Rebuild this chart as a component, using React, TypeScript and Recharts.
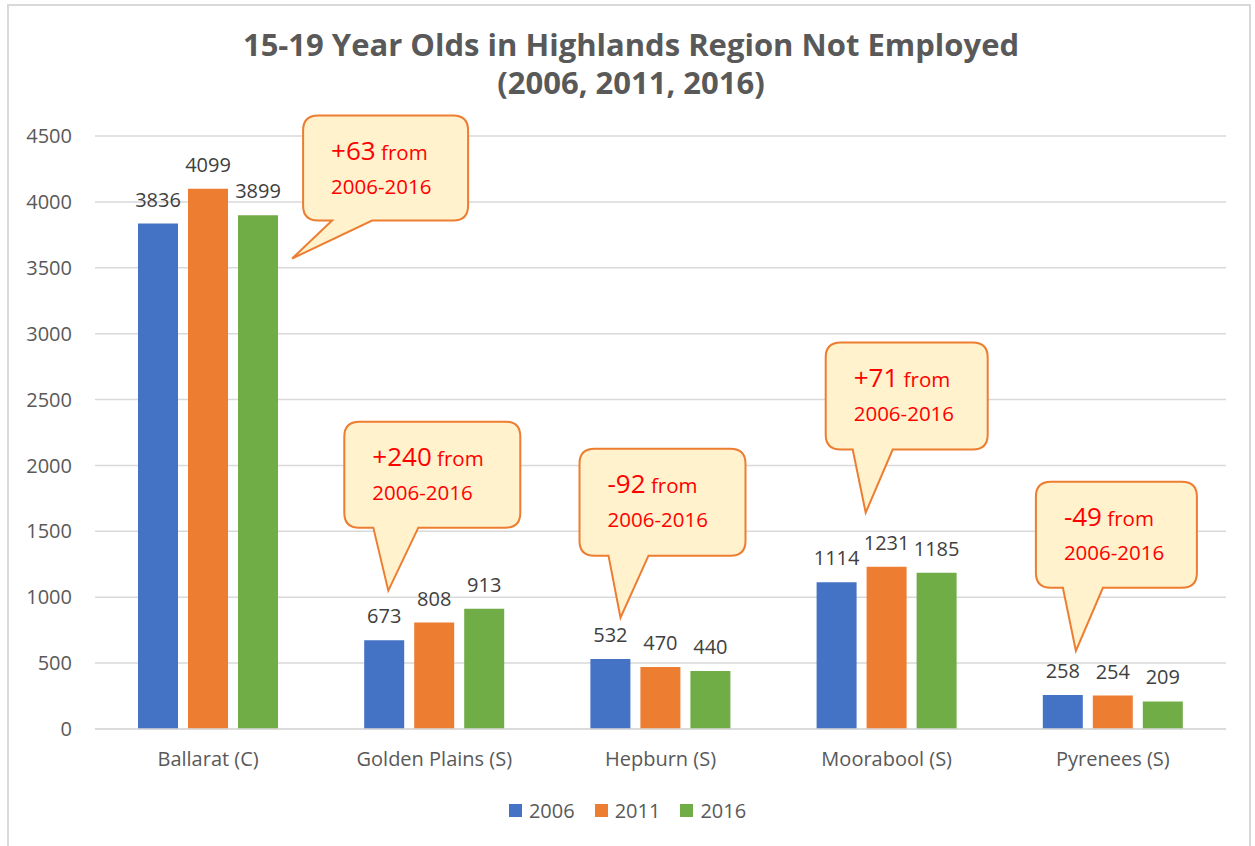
import React from "react";
import {
  BarChart,
  Bar,
  XAxis,
  YAxis,
  CartesianGrid,
  Legend,
  LabelList,
  ReferenceDot,
} from "recharts";

// categories + series values
const regions = [
  "Ballarat (C)",
  "Golden Plains (S)",
  "Hepburn (S)",
  "Moorabool (S)",
  "Pyrenees (S)",
];
const y2006 = [3836, 673, 532, 1114, 258];
const y2011 = [4099, 808, 470, 1231, 254];
const y2016 = [3899, 913, 440, 1185, 209];
const yTicks = [0, 500, 1000, 1500, 2000, 2500, 3000, 3500, 4000, 4500];

// callout texts + the value the pointer reaches
const noteRegions = ["Ballarat (C)", "Golden Plains (S)", "Hepburn (S)", "Moorabool (S)", "Pyrenees (S)"];
const noteChange = ["+63", "+240", "-92", "+71", "-49"];
const noteTipValue = [3570, 1050, 845, 1642, 593];

// callout layout (pixels, relative to the tip)
const noteLayout = [
  { dx: 84, boxX: 11, boxY: -143, w: 165, h: 105, baseA: 40, baseB: 80 },
  { dx: -46, boxX: -44, boxY: -169, w: 176, h: 106, baseA: -15, baseB: 30 },
  { dx: -40, boxX: -41, boxY: -169, w: 166, h: 107, baseA: -12, baseB: 28 },
  { dx: -21, boxX: -40, boxY: -170, w: 162, h: 107, baseA: -13, baseB: 27 },
  { dx: -37, boxX: -40, boxY: -169, w: 161, h: 106, baseA: -13, baseB: 27 },
];

const data = regions.map((r, i) => ({
  region: r,
  y2006: y2006[i],
  y2011: y2011[i],
  y2016: y2016[i],
}));

const FONT = "'Open Sans', sans-serif";
const COLORS = { y2006: "#4472C4", y2011: "#ED7D31", y2016: "#70AD47" };

function calloutPath(tx: number, ty: number, l: (typeof noteLayout)[number]) {
  const x0 = tx + l.boxX;
  const y0 = ty + l.boxY;
  const x1 = x0 + l.w;
  const y1 = y0 + l.h;
  const r = 15;
  return [
    `M${x0 + r},${y0}`,
    `L${x1 - r},${y0}`,
    `Q${x1},${y0} ${x1},${y0 + r}`,
    `L${x1},${y1 - r}`,
    `Q${x1},${y1} ${x1 - r},${y1}`,
    `L${tx + l.baseB},${y1}`,
    `L${tx},${ty}`,
    `L${tx + l.baseA},${y1}`,
    `L${x0 + r},${y1}`,
    `Q${x0},${y1} ${x0},${y1 - r}`,
    `L${x0},${y0 + r}`,
    `Q${x0},${y0} ${x0 + r},${y0}`,
    "Z",
  ].join(" ");
}

function makeCallout(i: number) {
  return (props: any) => {
    const l = noteLayout[i];
    const tx = props.cx + l.dx;
    const ty = props.cy;
    const textX = tx + l.boxX + 28;
    const top = ty + l.boxY;
    return (
      <g>
        <path d={calloutPath(tx, ty, l)} fill="#FFF2CC" stroke="#ED7D31" strokeWidth={2} />
        <text x={textX} y={top + 44} fill="#FF0000" fontFamily={FONT}>
          <tspan fontSize={26}>{noteChange[i]}</tspan>
          <tspan fontSize={20.5}> from</tspan>
        </text>
        <text x={textX} y={top + 78} fill="#FF0000" fontFamily={FONT} fontSize={20.5}>
          2006-2016
        </text>
      </g>
    );
  };
}

function LegendBox(props: any) {
  const items = props.payload || [];
  return (
    <div
      style={{
        display: "flex",
        justifyContent: "center",
        gap: 20,
        fontFamily: FONT,
        fontSize: 20,
        color: "#595959",
      }}
    >
      {items.map((it: any) => (
        <div key={it.value} style={{ display: "flex", alignItems: "center" }}>
          <span
            style={{ width: 13, height: 13, background: it.color, marginRight: 7, display: "inline-block" }}
          />
          <span>{it.value}</span>
        </div>
      ))}
    </div>
  );
}

export default function App() {
  return (
    <div style={{ position: "absolute", left: 0, top: 0, width: 1255, height: 846, background: "#fff", overflow: "hidden" }}>
      <div
        style={{
          position: "absolute",
          left: 7,
          top: 4,
          width: 1244,
          height: 900,
          border: "2px solid #D9D9D9",
          boxSizing: "border-box",
        }}
      />
      <div
        style={{
          position: "absolute",
          left: 0,
          top: 25,
          width: 1262,
          textAlign: "center",
          fontFamily: FONT,
          fontWeight: 700,
          fontSize: 31,
          lineHeight: "38px",
          color: "#595959",
        }}
      >
        15-19 Year Olds in Highlands Region Not Employed
        <br />
        (2006, 2011, 2016)
      </div>
      <div style={{ position: "absolute", left: 0, top: 0 }}>
        <BarChart
          width={1255}
          height={846}
          data={data}
          margin={{ top: 136, right: 29, left: 0, bottom: 50 }}
          barSize={40}
          barGap={10}
        >
          <CartesianGrid vertical={false} stroke="#D9D9D9" strokeWidth={1.5} />
          <XAxis
            dataKey="region"
            height={40}
            tickLine={false}
            axisLine={{ stroke: "#D9D9D9", strokeWidth: 1.5 }}
            tickMargin={17}
            tick={{ fill: "#595959", fontSize: 20, fontFamily: FONT }}
          />
          <YAxis
            width={95}
            domain={[0, 4500]}
            ticks={yTicks}
            tickLine={false}
            axisLine={false}
            tickMargin={17}
            tick={{ fill: "#595959", fontSize: 20, fontFamily: FONT }}
          />
          <Legend
            verticalAlign="bottom"
            content={<LegendBox />}
            wrapperStyle={{ left: 0, width: 1255, top: 797 }}
          />
          <Bar dataKey="y2006" name="2006" fill={COLORS.y2006} isAnimationActive={false}>
            <LabelList dataKey="y2006" position="top" offset={17} fill="#404040" fontSize={20} fontFamily={FONT} />
          </Bar>
          <Bar dataKey="y2011" name="2011" fill={COLORS.y2011} isAnimationActive={false}>
            <LabelList dataKey="y2011" position="top" offset={17} fill="#404040" fontSize={20} fontFamily={FONT} />
          </Bar>
          <Bar dataKey="y2016" name="2016" fill={COLORS.y2016} isAnimationActive={false}>
            <LabelList dataKey="y2016" position="top" offset={17} fill="#404040" fontSize={20} fontFamily={FONT} />
          </Bar>
          {noteRegions.map((r, i) => (
            <ReferenceDot
              key={r}
              x={r}
              y={noteTipValue[i]}
              ifOverflow="visible"
              shape={makeCallout(i)}
            />
          ))}
        </BarChart>
      </div>
    </div>
  );
}
